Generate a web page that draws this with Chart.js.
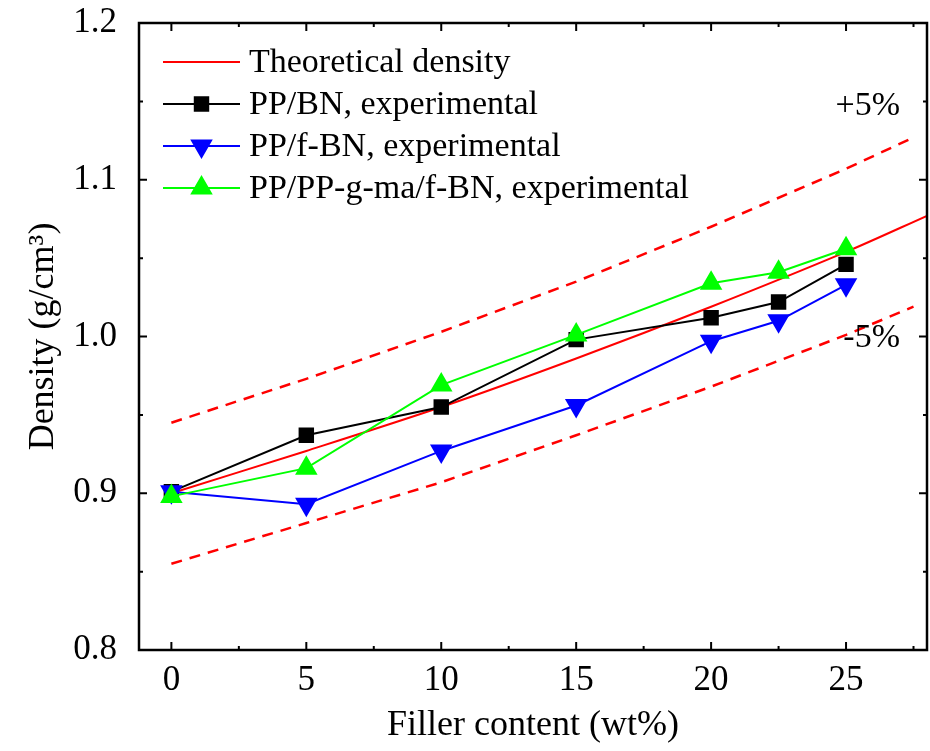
<!DOCTYPE html>
<html>
<head>
<meta charset="utf-8">
<script src="https://cdn.jsdelivr.net/npm/chart.js@4.4.0/dist/chart.umd.min.js"></script>
<style>
  html, body { margin: 0; padding: 0; background: #fff; }
  #wrap { width: 930px; height: 751px; }
</style>
</head>
<body>
<div id="wrap"><canvas id="densityChart" width="930" height="751"></canvas></div>
<script>
// valores
const fillerContent = [0, 5, 10, 15, 20, 22.5, 25];
const ppBN    = [0.901, 0.937, 0.955, 0.998, 1.012, 1.022, 1.046];
const ppfBN   = [0.901, 0.893, 0.927, 0.956, 0.997, 1.010, 1.033];
const ppGmaBN = [0.898, 0.916, 0.969, 1.001, 1.034, 1.041, 1.056];

const theoryX = [0, 5, 10, 15, 20, 25, 28];
const theoryY = [0.900, 0.927, 0.955, 0.986, 1.019, 1.054, 1.077];

const boundX  = [0, 5, 10, 15, 20, 25, 27.5];
const plus5   = [0.945, 0.973, 1.003, 1.035, 1.070, 1.107, 1.127];
const minus5  = [0.855, 0.881, 0.907, 0.937, 0.968, 1.001, 1.019];

const xTicks = [0, 5, 10, 15, 20, 25];
const yTicks = [0.8, 0.9, 1.0, 1.1, 1.2];

const FONT = '"Liberation Serif", "Times New Roman", serif';
const TICK_SIZE = 35;
const TEXT_SIZE = 34;
const TITLE_SIZE = 36;

function toPoints(xs, ys) {
  return xs.map((x, i) => ({ x: x, y: ys[i] }));
}

// legenda desenhada dentro da área do gráfico
const insideLegend = {
  id: 'insideLegend',
  afterDatasetsDraw(chart) {
    const ctx = chart.ctx;
    const area = chart.chartArea;
    const x0 = area.left + 24, x1 = area.left + 101;
    let y = area.top + 39;
    ctx.save();
    chart.data.datasets.forEach((ds) => {
      if (!ds.legend) return;
      ctx.strokeStyle = ds.borderColor;
      ctx.lineWidth = 2;
      ctx.setLineDash([]);
      ctx.beginPath();
      ctx.moveTo(x0, y);
      ctx.lineTo(x1, y);
      ctx.stroke();
      if (ds.pointRadius > 0) {
        ctx.fillStyle = ds.pointBackgroundColor;
        ctx.strokeStyle = ds.pointBorderColor;
        Chart.helpers.drawPoint(ctx, {
          pointStyle: ds.pointStyle,
          rotation: ds.pointRotation || 0,
          radius: ds.pointRadius,
          borderWidth: 1
        }, (x0 + x1) / 2, y);
      }
      ctx.fillStyle = '#000';
      ctx.font = TEXT_SIZE + 'px ' + FONT;
      ctx.textAlign = 'left';
      ctx.textBaseline = 'middle';
      ctx.fillText(ds.label, x1 + 9, y + 1);
      y += 42;
    });
    ctx.restore();
  }
};

// moldura, ticks internos e rótulos +5% / -5%
const frameTicks = {
  id: 'frameTicks',
  afterDraw(chart) {
    const ctx = chart.ctx;
    const a = chart.chartArea;
    const xs = chart.scales.x, ys = chart.scales.y;
    ctx.save();
    ctx.strokeStyle = '#000';
    ctx.lineWidth = 2.5;
    ctx.setLineDash([]);
    ctx.strokeRect(a.left, a.top, a.right - a.left, a.bottom - a.top);
    ctx.lineWidth = 2;
    ctx.beginPath();
    for (let v = 0; v <= 27.5; v += 2.5) {
      const px = xs.getPixelForValue(v);
      const len = (v % 5 === 0) ? 8 : 4;
      ctx.moveTo(px, a.bottom); ctx.lineTo(px, a.bottom - len);
      ctx.moveTo(px, a.top);    ctx.lineTo(px, a.top + len);
    }
    for (let k = 0; k <= 8; k++) {
      const v = 0.8 + k * 0.05;
      const py = ys.getPixelForValue(v);
      const len = (k % 2 === 0) ? 8 : 4;
      ctx.moveTo(a.left, py);  ctx.lineTo(a.left + len, py);
      ctx.moveTo(a.right, py); ctx.lineTo(a.right - len, py);
    }
    ctx.stroke();

    ctx.fillStyle = '#000';
    ctx.font = TEXT_SIZE + 'px ' + FONT;
    ctx.textAlign = 'right';
    ctx.textBaseline = 'middle';
    ctx.fillText('+5%', xs.getPixelForValue(27), ys.getPixelForValue(1.147));
    ctx.fillText('-5%', xs.getPixelForValue(27), ys.getPixelForValue(0.999));
    ctx.restore();
  }
};

const ctx = document.getElementById('densityChart').getContext('2d');
new Chart(ctx, {
  type: 'scatter',
  data: {
    datasets: [
      {
        label: 'Theoretical density', legend: true,
        data: toPoints(theoryX, theoryY),
        showLine: true, borderColor: '#ff0000', borderWidth: 2,
        pointRadius: 0, tension: 0.3, order: 5
      },
      {
        label: 'PP/BN, experimental', legend: true,
        data: toPoints(fillerContent, ppBN),
        showLine: true, borderColor: '#000000', borderWidth: 2,
        pointStyle: 'rect', pointRadius: 9.5,
        pointBackgroundColor: '#000000', pointBorderColor: '#000000', order: 3
      },
      {
        label: 'PP/f-BN, experimental', legend: true,
        data: toPoints(fillerContent, ppfBN),
        showLine: true, borderColor: '#0000ff', borderWidth: 2,
        pointStyle: 'triangle', pointRotation: 180, rotation: 180, pointRadius: 11,
        pointBackgroundColor: '#0000ff', pointBorderColor: '#0000ff', order: 2
      },
      {
        label: 'PP/PP-g-ma/f-BN, experimental', legend: true,
        data: toPoints(fillerContent, ppGmaBN),
        showLine: true, borderColor: '#00ff00', borderWidth: 2,
        pointStyle: 'triangle', pointRadius: 11,
        pointBackgroundColor: '#00ff00', pointBorderColor: '#00ff00', order: 1
      },
      {
        label: '+5%',
        data: toPoints(boundX, plus5),
        showLine: true, borderColor: '#ff0000', borderWidth: 2.5,
        borderDash: [11, 8], pointRadius: 0, order: 6
      },
      {
        label: '-5%',
        data: toPoints(boundX, minus5),
        showLine: true, borderColor: '#ff0000', borderWidth: 2.5,
        borderDash: [11, 8], pointRadius: 0, order: 6
      }
    ]
  },
  options: {
    responsive: false,
    animation: false,
    layout: { autoPadding: false, padding: { top: 23, right: 3, left: 0, bottom: 0 } },
    plugins: {
      legend: { display: false },
      tooltip: { enabled: false }
    },
    scales: {
      x: {
        type: 'linear', min: -1.2, max: 28,
        afterFit(scale) { scale.height = 101; scale.paddingLeft = 0; scale.paddingRight = 0; },
        afterBuildTicks(scale) { scale.ticks = xTicks.map(v => ({ value: v })); },
        grid: { display: false },
        border: { display: false },
        ticks: { color: '#000', font: { family: FONT, size: TICK_SIZE }, padding: 2 },
        title: {
          display: true, text: 'Filler content (wt%)', color: '#000',
          font: { family: FONT, size: TITLE_SIZE }, padding: { top: 10 }
        }
      },
      y: {
        type: 'linear', min: 0.8, max: 1.2,
        afterFit(scale) { scale.width = 139; scale.paddingTop = 0; scale.paddingBottom = 0; },
        afterBuildTicks(scale) { scale.ticks = yTicks.map(v => ({ value: v })); },
        grid: { display: false },
        border: { display: false },
        ticks: {
          color: '#000', font: { family: FONT, size: TICK_SIZE }, padding: 14,
          callback: v => v.toFixed(1)
        },
        title: {
          display: true, text: 'Density (g/cm³)', color: '#000',
          font: { family: FONT, size: TITLE_SIZE }, padding: { top: 22, bottom: 0 }
        }
      }
    }
  },
  plugins: [insideLegend, frameTicks]
});
</script>
</body>
</html>
